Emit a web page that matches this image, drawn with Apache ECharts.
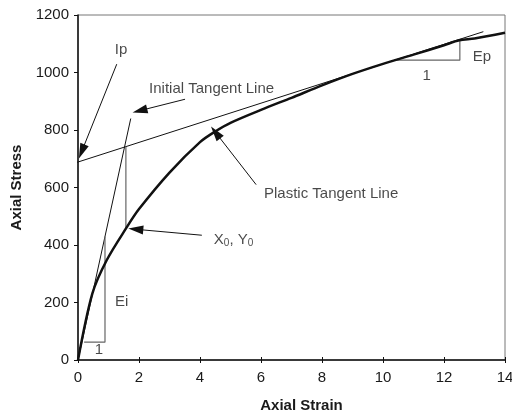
<!DOCTYPE html>
<html><head><meta charset="utf-8">
<script src="https://cdn.jsdelivr.net/npm/echarts@6/dist/echarts.min.js"></script>
<style>html,body{margin:0;padding:0;background:#fff}#c{width:512px;height:413px}</style>
</head><body><div id="c"></div>
<script>
// Stress-strain curve
const strain = [0, 0.47, 0.94, 1.6, 2.0, 3.0, 4.0, 4.5, 5.0, 6.0, 7.0, 8.0, 9.0, 10.0, 11.0, 12.0, 12.5, 13.0, 14.0];
const stress = [0, 231, 347, 462, 525, 652, 758, 795, 825, 870, 912, 955, 995, 1030, 1062, 1095, 1112, 1118, 1138];
// Tangent lines [x, y]
const initialTangent = [[0, 0], [1.73, 840]];
const plasticTangent = [[-0.37, 676], [13.29, 1142]];
// Slope triangles and the yield marker
const eiTriangle = [[0.2, 62], [0.885, 62], [0.885, 430]];
const epTriangle = [[10.39, 1043], [12.52, 1043], [12.52, 1116]];
const yieldMarker = [[1.57, 457], [1.57, 742]];
// Arrows: [startX, startY, tipX, tipY]
const arrows = [
  [1.27, 1029, 0.03, 701],
  [3.51, 907, 1.79, 861],
  [5.84, 610, 4.36, 812],
  [4.06, 434, 1.65, 457]
];
// Annotation texts
const labelText = ['Ip', 'Initial Tangent Line', 'Plastic Tangent Line', '{n|X}{s|0}{n|, Y}{s|0}', 'Ei', '1', 'Ep', '1'];
const labelPos = [[1.41, 1079], [4.38, 943], [8.3, 578], [5.1, 418], [1.43, 202], [0.69, 35], [13.24, 1054], [11.43, 988]];
// Axes
const xTicks = {min: 0, max: 14, interval: 2};
const yTicks = {min: 0, max: 1200, interval: 200};

const FONT = 'Liberation Sans, Arial, sans-serif';
const FS = 15;
const TXT = '#1a1a1a';
const ARROW = [9, 15];
const chart = echarts.init(document.getElementById('c'), null, {renderer: 'canvas'});
const thin = (data, color, w) => ({type: 'line', data, symbol: 'none', clip: false, silent: true,
  lineStyle: {color, width: w}, animation: false, z: 3});

function arrowData() {
  // the arrowhead symbol is centred on the end point; pull it back by half its length so the tip lands on the point
  return arrows.map(a => {
    const p0 = chart.convertToPixel({gridIndex: 0}, [a[0], a[1]]);
    const p1 = chart.convertToPixel({gridIndex: 0}, [a[2], a[3]]);
    if (!p0 || !p1) return [{coord: [a[0], a[1]]}, {coord: [a[2], a[3]]}];
    const dx = p1[0] - p0[0], dy = p1[1] - p0[1], L = Math.hypot(dx, dy);
    const q = [p1[0] - dx / L * ARROW[1] / 2, p1[1] - dy / L * ARROW[1] / 2];
    const c = chart.convertFromPixel({gridIndex: 0}, q);
    return [{coord: [a[0], a[1]]}, {coord: c}];
  });
}

const option = {
  animation: false,
  grid: {left: 78, right: 7, top: 15, bottom: 53, show: true, borderColor: '#777', borderWidth: 1,
         containLabel: false, outerBoundsMode: 'none'},
  xAxis: [{
    type: 'value', min: xTicks.min, max: xTicks.max, interval: xTicks.interval,
    name: 'Axial Strain', nameLocation: 'middle', nameGap: 38,
    nameTextStyle: {fontFamily: FONT, fontWeight: 'bold', fontSize: FS, color: TXT, padding: [0, 0, 0, 20]},
    axisLine: {lineStyle: {color: '#111', width: 1.5}},
    axisTick: {show: true, length: 3, lineStyle: {color: '#111'}},
    axisLabel: {fontFamily: FONT, fontSize: FS, color: TXT, margin: 10},
    splitLine: {show: false}
  }, {
    type: 'value', min: xTicks.min, max: xTicks.max, interval: xTicks.interval, position: 'bottom',
    axisLine: {show: false}, axisTick: {show: true, inside: true, length: 3, lineStyle: {color: '#111'}},
    axisLabel: {show: false}, splitLine: {show: false}
  }],
  yAxis: {
    type: 'value', min: yTicks.min, max: yTicks.max, interval: yTicks.interval,
    name: 'Axial Stress', nameLocation: 'middle', nameGap: 54,
    nameTextStyle: {fontFamily: FONT, fontWeight: 'bold', fontSize: FS, color: TXT},
    axisLine: {show: true, lineStyle: {color: '#111', width: 1.5}},
    axisTick: {show: true, length: 4, lineStyle: {color: '#111'}},
    axisLabel: {fontFamily: FONT, fontSize: FS, color: TXT, margin: 9, formatter: v => String(v)},
    splitLine: {show: false}
  },
  series: [
    {type: 'line', data: strain.map((x, i) => [x, stress[i]]), symbol: 'none', smooth: 0.3,
     lineStyle: {color: '#111', width: 2.5}, z: 4},
    thin(initialTangent, '#111', 1),
    thin(plasticTangent, '#111', 1),
    thin(eiTriangle, '#666', 1.2),
    thin(epTriangle, '#666', 1.2),
    thin(yieldMarker, '#666', 1.2),
    {type: 'scatter', data: labelPos.map((p, i) => ({value: p, name: labelText[i]})), symbolSize: 0, silent: true,
     label: {show: true, position: 'inside', formatter: p => p.name, fontFamily: FONT, fontSize: FS, color: TXT,
       rich: {n: {fontFamily: FONT, fontSize: FS, color: TXT}, s: {fontFamily: FONT, fontSize: 10, color: TXT, verticalAlign: 'bottom', padding: [7, 0, 0, 0]}}},
     markLine: {silent: true, animation: false, symbol: ['none', 'triangle'], symbolSize: ARROW,
       label: {show: false}, lineStyle: {color: '#111', width: 1, type: 'solid'},
       itemStyle: {color: '#111'},
       data: arrows.map(a => [{coord: [a[0], a[1]]}, {coord: [a[2], a[3]]}])}
    }
  ]
};
chart.setOption(option);
option.series[6].markLine.data = arrowData();
chart.setOption(option);
</script></body></html>
